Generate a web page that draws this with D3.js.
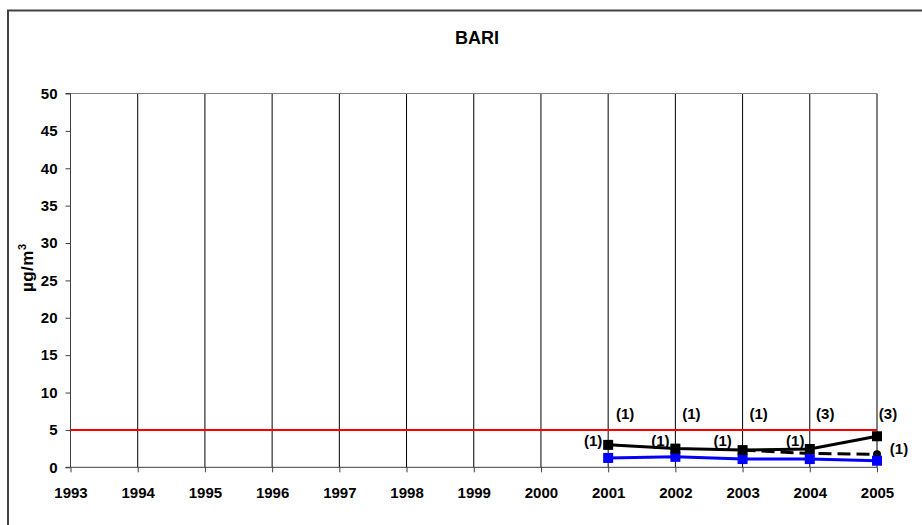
<!DOCTYPE html>
<html><head><meta charset="utf-8">
<script src="https://cdn.jsdelivr.net/npm/d3@7"></script>
<style>body{margin:0;background:#fff}svg{display:block}text{font-family:"Liberation Sans",Arial,sans-serif;font-weight:bold}</style>
</head><body>
<svg id="c" width="922" height="525"></svg>
<script>
const years = [1993,1994,1995,1996,1997,1998,1999,2000,2001,2002,2003,2004,2005];
const yTicks = [0,5,10,15,20,25,30,35,40,45,50];
const limitValue = 5;
const blackYears = [2001,2002,2003,2004,2005];
const blackValues = [3.0,2.5,2.3,2.45,4.15];
const dashedYears = [2003,2004,2005];
const dashedValues = [2.3,1.85,1.75];
const blueYears = [2001,2002,2003,2004,2005];
const blueValues = [1.25,1.4,1.1,1.1,0.88];
const topLabels = ["(1)","(1)","(1)","(3)","(3)"];
const leftLabels = ["(1)","(1)","(1)","(1)"];
const rightLabel = "(1)";

const svg = d3.select("#c");
const m = {l:70.5, r:877, t:93.5, b:467.3};
const x = d3.scaleLinear().domain([1993,2005]).range([m.l, m.r]);
const y = d3.scaleLinear().domain([0,50]).range([m.b, m.t]);
const FS = "15px";

// outer border
svg.append("path").attr("d",`M8,525 V10.5 H922`).attr("fill","none").attr("stroke","#404040").attr("stroke-width",2);

// title
svg.append("text").attr("x",477).attr("y",44).attr("text-anchor","middle").style("font-size","18px").text("BARI");

// vertical gridlines
svg.append("g").selectAll("line").data(years.slice(1)).join("line")
  .attr("x1",d=>x(d)).attr("x2",d=>x(d)).attr("y1",m.t).attr("y2",m.b)
  .attr("stroke","#000").attr("stroke-width",1);
// top border
svg.append("line").attr("x1",m.l).attr("x2",m.r).attr("y1",m.t).attr("y2",m.t).attr("stroke","#808080");

// axes
const yAxis = d3.axisLeft(y).tickValues(yTicks).tickSize(5).tickPadding(8);
const gy = svg.append("g").attr("transform",`translate(${m.l},0)`).call(yAxis);
gy.select(".domain").attr("stroke","#404040").attr("d",`M-5,${m.b}H0V${m.t}H-5`);
gy.selectAll(".tick line").attr("stroke","#404040");
gy.selectAll("text").style("font-size",FS).style("font-family","Liberation Sans, Arial").style("font-weight","bold").attr("fill","#000");

const xAxis = d3.axisBottom(x).tickValues(years).tickFormat(d3.format("d")).tickSize(5).tickPadding(15);
const gx = svg.append("g").attr("transform",`translate(0,${m.b})`).call(xAxis);
gx.select(".domain").attr("stroke","#404040").attr("d",`M${m.l},0H${m.r}`);
gx.selectAll(".tick line").attr("stroke","#404040");
gx.selectAll("text").style("font-size",FS).style("font-family","Liberation Sans, Arial").style("font-weight","bold").attr("fill","#000").attr("dy",null).attr("y",31);

// y label
const yl = svg.append("text").attr("transform","translate(33,268) rotate(-90)").attr("text-anchor","middle").style("font-size","17px").style("letter-spacing","0.5px");
yl.append("tspan").text("µg/m");
yl.append("tspan").attr("dy",-7).style("font-size","11px").style("letter-spacing","0px").text("3");

// limit line
svg.append("line").attr("x1",x(1993)).attr("x2",x(2005)).attr("y1",y(limitValue)).attr("y2",y(limitValue))
  .attr("stroke","#ff0000").attr("stroke-width",2);

const line = d3.line().x(d=>x(d[0])).y(d=>y(d[1]));
const blueData = blueYears.map((d,i)=>[d,blueValues[i]]);
const blackData = blackYears.map((d,i)=>[d,blackValues[i]]);
const dashedData = dashedYears.map((d,i)=>[d,dashedValues[i]]);

svg.append("path").datum(dashedData).attr("d",line).attr("fill","none").attr("stroke","#000").attr("stroke-width",3).attr("stroke-dasharray","13,6");
svg.append("circle").attr("cx",x(dashedYears[dashedYears.length-1])).attr("cy",y(dashedValues[dashedValues.length-1])).attr("r",4).attr("fill","#000");

svg.append("path").datum(blueData).attr("d",line).attr("fill","none").attr("stroke","#0000ff").attr("stroke-width",3);
svg.append("g").selectAll("rect").data(blueData).join("rect")
  .attr("x",d=>x(d[0])-5).attr("y",d=>y(d[1])-5).attr("width",10).attr("height",10).attr("fill","#0000ff");

svg.append("path").datum(blackData).attr("d",line).attr("fill","none").attr("stroke","#000").attr("stroke-width",3);
svg.append("g").selectAll("rect").data(blackData).join("rect")
  .attr("x",d=>x(d[0])-5).attr("y",d=>y(d[1])-5).attr("width",10).attr("height",10).attr("fill","#000");

// labels
const topOff = [17,16,16,15.5,11];
const leftOff = [-15,-15,-20,-14.5];
const tl = svg.append("g").style("font-size",FS);
tl.selectAll("text.top").data(topLabels).join("text").attr("class","top")
  .attr("x",(d,i)=>x(blackYears[i]) + topOff[i]).attr("y",419).attr("text-anchor","middle").text(d=>d);
tl.selectAll("text.left").data(leftLabels).join("text").attr("class","left")
  .attr("x",(d,i)=>x(blackYears[i]) + leftOff[i]).attr("y",446).attr("text-anchor","middle").text(d=>d);
tl.append("text").attr("x",899).attr("y",454).attr("text-anchor","middle").text(rightLabel);
</script>
</body></html>
